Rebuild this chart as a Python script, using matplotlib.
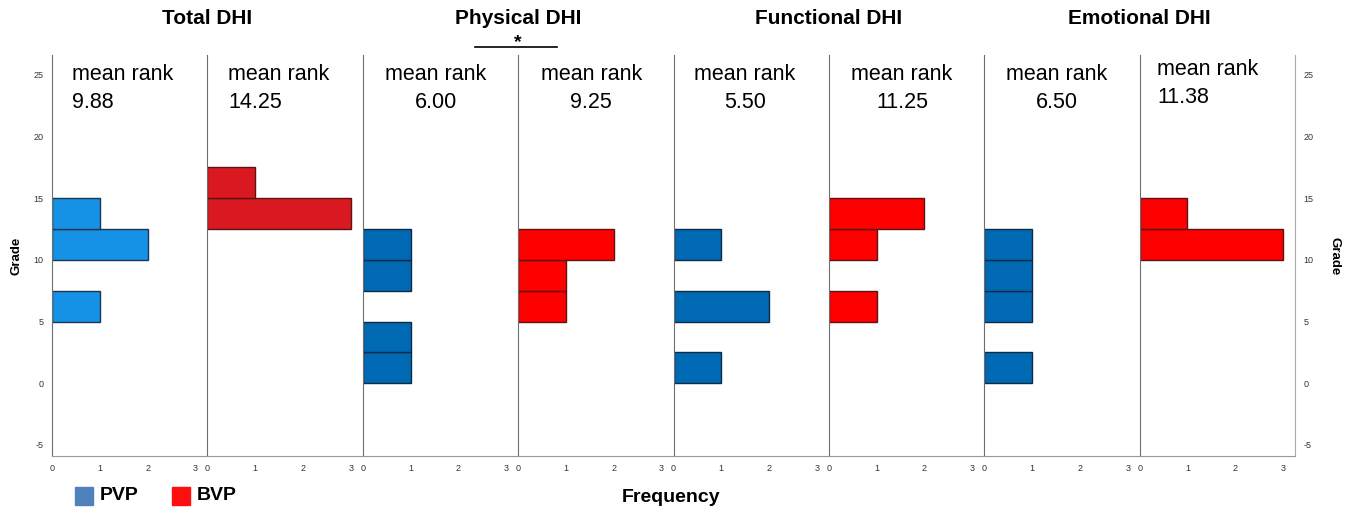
import numpy as np
import matplotlib
matplotlib.use("Agg")
import matplotlib.pyplot as plt
from matplotlib.patches import Rectangle
from matplotlib.lines import Line2D

plt.rcParams['font.family'] = ['Liberation Sans', 'DejaVu Sans']
plt.rcParams['axes.unicode_minus'] = False

# --- Data ---
bin_lower = [0, 2.5, 5, 7.5, 10, 12.5, 15]   # Grade bins, width 2.5
bin_width = 2.5
groups = ["Total DHI", "Physical DHI", "Functional DHI", "Emotional DHI"]

total_pvp      = [0, 0, 1, 0, 2, 1, 0]
total_bvp      = [0, 0, 0, 0, 0, 3, 1]
physical_pvp   = [1, 1, 0, 1, 1, 0, 0]
physical_bvp   = [0, 0, 1, 1, 2, 0, 0]
functional_pvp = [1, 0, 2, 0, 1, 0, 0]
functional_bvp = [0, 0, 1, 0, 1, 2, 0]
emotional_pvp  = [1, 0, 1, 1, 1, 0, 0]
emotional_bvp  = [0, 0, 0, 0, 3, 1, 0]

mean_ranks = [9.88, 14.25, 6.00, 9.25, 5.50, 11.25, 6.50, 11.38]

panels = [total_pvp, total_bvp, physical_pvp, physical_bvp,
          functional_pvp, functional_bvp, emotional_pvp, emotional_bvp]

# --- Styles ---
face_colors = ["#1592E6", "#D9191F", "#0069B4", "#FF0000",
               "#0069B4", "#FF0000", "#0069B4", "#FF0000"]
edge_colors = ["#1c3550", "#5a1414", "#102a44", "#5a1414",
               "#102a44", "#5a1414", "#102a44", "#5a1414"]
# (x in axes coords, alignment, y of label centre)
label_pos = [(0.13, "left", 23.9), (0.135, "left", 23.9), (0.47, "center", 23.9),
             (0.47, "center", 23.9), (0.46, "center", 23.9), (0.47, "center", 23.9),
             (0.465, "center", 23.9), (0.115, "left", 24.3)]

W, H = 1350, 511
fig = plt.figure(figsize=(13.5, 5.11), dpi=100)

left_px, right_px = 52, 1295
bottom_px, top_px = 456, 55
pw = (right_px - left_px) / 8

tick_kw = dict(length=0, labelsize=6.5, labelcolor="#333333")

for i, counts in enumerate(panels):
    ax = fig.add_axes([(left_px + i * pw) / W, 1 - bottom_px / H,
                       pw / W, (bottom_px - top_px) / H])
    counts = np.array(counts)
    mask = counts > 0
    ax.barh(np.array(bin_lower)[mask], counts[mask], height=bin_width, align="edge",
            color=face_colors[i], edgecolor=edge_colors[i], linewidth=1.0)
    ax.set_xlim(0, 3.25)
    ax.set_ylim(-5.9, 26.6)
    ax.set_xticks([0, 1, 2, 3])
    ax.tick_params(axis="x", pad=6, **tick_kw)
    ax.spines["top"].set_visible(False)
    ax.spines["right"].set_visible(i == 7)
    ax.spines["right"].set_color("#aaaaaa")
    ax.spines["left"].set_color("#6e6e6e")
    ax.spines["bottom"].set_color("#9a9a9a")
    if i in (0, 7):
        ax.set_yticks(range(-5, 30, 5))
        if i == 7:
            ax.yaxis.tick_right()
        ax.tick_params(axis="y", pad=6, **tick_kw)
    else:
        ax.set_yticks([])
    x, ha, y = label_pos[i]
    ax.text(x, y, f"mean rank\n{mean_ranks[i]:.2f}", ha=ha, ma=ha, va="center",
            fontsize=15.5, linespacing=1.45, transform=ax.get_yaxis_transform())

# group titles
for g, name in enumerate(groups):
    xc = (left_px + (2 * g + 1) * pw) / W
    fig.text(xc, 1 - 18 / H, name, ha="center", va="center", fontsize=15, fontweight="bold")

# significance bar for Physical DHI
fig.add_artist(Line2D([475 / W, 557 / W], [1 - 47 / H, 1 - 47 / H], color="black", lw=1.2))
fig.text(518 / W, 1 - 43 / H, "*", ha="center", va="center", fontsize=14, fontweight="bold")

fig.text(16 / W, 1 - 256 / H, "Grade", rotation=90, ha="center", va="center",
         fontsize=9.5, fontweight="bold")
fig.text(1334 / W, 1 - 256 / H, "Grade", rotation=270, ha="center", va="center",
         fontsize=9.5, fontweight="bold")
fig.text(671 / W, 1 - 497 / H, "Frequency", ha="center", va="center",
         fontsize=14, fontweight="bold")

# legend
fig.add_artist(Rectangle((75 / W, 1 - 505 / H), 18 / W, 18 / H, color="#4F81BD",
                         transform=fig.transFigure))
fig.text(100 / W, 1 - 496 / H, "PVP", ha="left", va="center", fontsize=14, fontweight="bold")
fig.add_artist(Rectangle((172 / W, 1 - 505 / H), 18 / W, 18 / H, color="#FF1010",
                         transform=fig.transFigure))
fig.text(197 / W, 1 - 496 / H, "BVP", ha="left", va="center", fontsize=14, fontweight="bold")

fig.savefig("out.png", dpi=100)
